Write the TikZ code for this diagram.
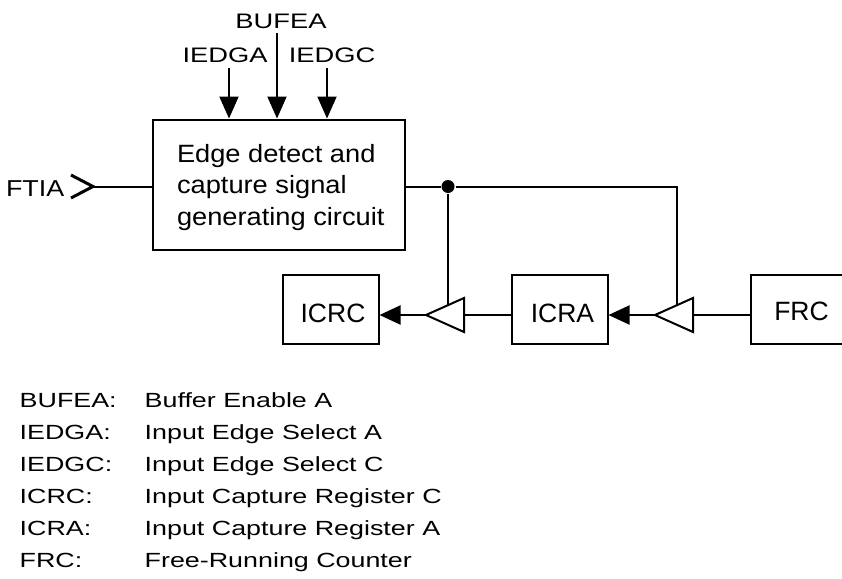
\documentclass[tikz,border=0pt]{standalone}
\usepackage{fontspec}
\setmainfont{Liberation Sans}
\newfontfamily\regfont{Liberation Sans}
\newfontfamily\blockfont[FakeStretch=1.09]{Liberation Sans}
\newfontfamily\sigfont[FakeStretch=1.30]{Liberation Sans}
\newfontfamily\inpfont[FakeStretch=1.17]{Liberation Sans}
\newfontfamily\keyfont[FakeStretch=1.31]{Liberation Sans}
\usetikzlibrary{arrows.meta}
\begin{document}
\begin{tikzpicture}[x=1pt,y=-1pt,line width=2pt,
  box/.style={draw,line width=2pt,inner sep=0pt},
  blocktext/.style={inner sep=0pt,anchor=base west,font=\blockfont\fontsize{25}{30}\selectfont},
  regtext/.style={inner sep=0pt,anchor=base,font=\regfont\fontsize{26.5}{30}\selectfont},
  sigtext/.style={inner sep=0pt,anchor=base,font=\sigfont\fontsize{21}{25}\selectfont},
  inptext/.style={inner sep=0pt,anchor=base west,font=\inpfont\fontsize{23}{27}\selectfont},
  keytext/.style={inner sep=0pt,anchor=base west,font=\keyfont\fontsize{20.5}{25}\selectfont},
  sigarrow/.style={-{Triangle[width=19pt,length=22pt]}},
  regarrow/.style={-{Triangle[width=19pt,length=21pt]}},
  buffer/.style={draw,fill=white,line width=2pt,line join=miter},
  junction/.style={circle,fill=black,draw=none,inner sep=0pt,minimum size=13pt}]
\useasboundingbox (0,0) rectangle (842,578);
% main block
\node[box,minimum width=252pt,minimum height=130pt] (edc) at (279,184.5) {};
\node[blocktext] (t1) at (176,162) {Edge detect and};
\node[blocktext] (t2) at (176,193.5) {capture signal};
\node[blocktext] (t3) at (176,225) {generating circuit};
% top inputs
\node[sigtext] (bufea) at (281,28.3) {BUFEA};
\node[sigtext] (iedga) at (225,63) {IEDGA};
\node[sigtext] (iedgc) at (332,63) {IEDGC};
\coordinate (ina) at (229,68);
\coordinate (inb) at (277,33);
\coordinate (inc) at (327,68);
\draw[sigarrow] (ina) -- (ina |- edc.north);
\draw[sigarrow] (inb) -- (inb |- edc.north);
\draw[sigarrow] (inc) -- (inc |- edc.north);
% FTIA input
\node[inptext] (ftia) at (5,196.7) {FTIA};
\coordinate (ftiain) at (93,186.5);
\draw[line width=3pt,line join=miter] (71,175) -- (ftiain) -- (71,198);
\draw (ftiain) -- (ftiain -| edc.west);
% registers
\node[box,minimum width=96pt,minimum height=69pt] (icrc) at (330.5,309.7) {};
\node[box,minimum width=96pt,minimum height=69pt] (icra) at (559.5,309.5) {};
\node[box,minimum width=102pt,minimum height=69pt] (frc) at (802,309.5) {};
\node[regtext] (icrct) at (333,322) {ICRC};
\node[regtext] (icrat) at (562.5,322) {ICRA};
\node[regtext] (frct) at (801.5,320.5) {FRC};
% buffers
\coordinate (b1tip) at (426,315);
\coordinate (b1base) at (464,315);
\coordinate (b1ctl) at (448,305.2);
\coordinate (b2tip) at (655,315);
\coordinate (b2base) at (693,315);
\coordinate (b2ctl) at (677,305.2);
% output net
\node[junction] (j) at (448,186.5) {};
\coordinate (corner) at (677,186.5);
\draw (j -| edc.east) -- (j) -- (corner) -- (b2ctl);
\draw (j) -- (b1ctl);
% data path
\draw (frc.west |- b2base) -- (b2base);
\draw[regarrow] (b2tip) -- (b2tip -| icra.east);
\draw (icra.west |- b1base) -- (b1base);
\draw[regarrow] (b1tip) -- (b1tip -| icrc.east);
\draw[buffer] (b1tip) -- (464,298) -- (464,332) -- cycle;
\draw[buffer] (b2tip) -- (693,298) -- (693,332) -- cycle;
% legend
\foreach \k/\a/\b [count=\i from 0] in {kb/BUFEA:/Buffer Enable A,ka/IEDGA:/Input Edge Select A,kc/IEDGC:/Input Edge Select C,kr/ICRC:/Input Capture Register C,ks/ICRA:/Input Capture Register A,kf/FRC:/Free-Running Counter}{
  \node[keytext] (\k1) at (18.7,407.5+32*\i) {\a};
  \node[keytext] (\k2) at (143.7,407.5+32*\i) {\b};
}
\end{tikzpicture}
\end{document}
